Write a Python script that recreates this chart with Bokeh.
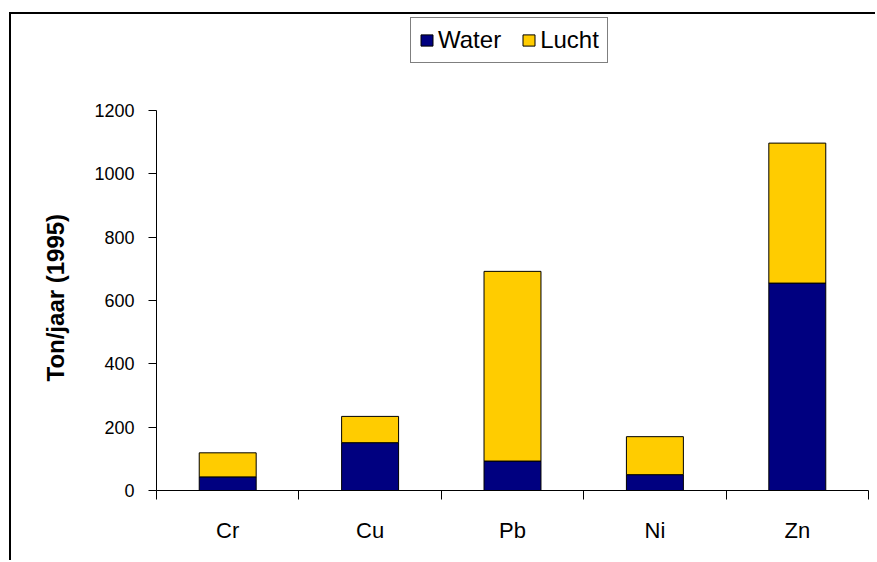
from bokeh.plotting import figure
from bokeh.models import Legend, LegendItem, FixedTicker, ColumnDataSource, Range1d, Title
from bokeh.embed import file_html
from bokeh.resources import INLINE

# ---- data ----
categories = ["Cr", "Cu", "Pb", "Ni", "Zn"]
water = [43, 151, 93, 50, 655]
lucht = [76, 83, 599, 120, 442]
series_names = ["Water", "Lucht"]
y_ticks = [0, 200, 400, 600, 800, 1000, 1200]
y_max = 1200
y_title = "Ton/jaar (1995)"

colors = ["#000080", "#FFCC00"]
FONT = "Liberation Sans"

# layout (page pixels)
CANVAS_TOP = 14
FRAME_BOTTOM = 490
AXIS_TOP = 110

xpos = [i + 0.5 for i in range(len(categories))]
total = [w + l for w, l in zip(water, lucht)]

src = ColumnDataSource(dict(x=xpos, w0=[0] * len(water), w1=water, l1=total))

y_end = y_max * (FRAME_BOTTOM - CANVAS_TOP) / (FRAME_BOTTOM - AXIS_TOP)

p = figure(width=866, height=548, output_backend="svg", toolbar_location=None,
           x_range=Range1d(0, len(categories)), y_range=Range1d(0, y_end),
           min_border_left=145, min_border_top=0, min_border_right=9, min_border_bottom=72)
p.styles = {"border-left": "2px solid black", "border-top": "2px solid black",
            "margin-left": "9px", "margin-top": "12px"}

r1 = p.vbar(x="x", bottom="w0", top="w1", width=0.4, source=src,
            fill_color=colors[0], line_color="black", line_width=1)
r2 = p.vbar(x="x", bottom="w1", top="l1", width=0.4, source=src,
            fill_color=colors[1], line_color="black", line_width=1)

p.outline_line_color = None
p.xgrid.visible = False
p.ygrid.visible = False
p.background_fill_color = "white"
p.border_fill_color = "white"

# x axis: labels at centres, tick marks at category boundaries
xa = p.xaxis[0]
xa.ticker = FixedTicker(ticks=xpos, minor_ticks=list(range(len(categories) + 1)))
xa.major_label_overrides = {x: c for x, c in zip(xpos, categories)}
xa.major_tick_line_color = None
xa.major_tick_in = 0
xa.major_tick_out = 9
xa.minor_tick_in = 0
xa.minor_tick_out = 9
xa.minor_tick_line_color = "black"
xa.axis_line_color = "black"
xa.major_label_text_font = FONT
xa.major_label_text_font_size = "22px"
xa.major_label_text_color = "black"
xa.major_label_standoff = 18

ya = p.yaxis[0]
ya.ticker = FixedTicker(ticks=y_ticks)
ya.bounds = (0, y_max)
ya.minor_tick_line_color = None
ya.major_tick_in = 0
ya.major_tick_out = 8
ya.axis_line_color = "black"
ya.major_tick_line_color = "black"
ya.major_label_text_font = FONT
ya.major_label_text_font_size = "18px"
ya.major_label_text_color = "black"
ya.major_label_standoff = 14

# y-axis title, placed along the drawn axis (0..1200)
ytitle = Title(text=y_title, align="left", text_font=FONT, text_font_style="bold",
               text_font_size="24px", text_color="black", standoff=45, offset=109)
p.add_layout(ytitle, "left")

legend = Legend(items=[LegendItem(label=series_names[0], renderers=[r1]),
                       LegendItem(label=series_names[1], renderers=[r2])],
                orientation="horizontal", location=(254, FRAME_BOTTOM - 63))
legend.border_line_color = "black"
legend.border_line_width = 1
legend.background_fill_alpha = 1
legend.padding = 8
legend.margin = 0
legend.spacing = 20
legend.glyph_width = 15
legend.glyph_height = 14
legend.label_standoff = 4
legend.label_text_font = FONT
legend.label_text_font_size = "24px"
legend.label_text_color = "black"
p.add_layout(legend, "center")

open("out.html", "w").write(file_html(p, INLINE))
